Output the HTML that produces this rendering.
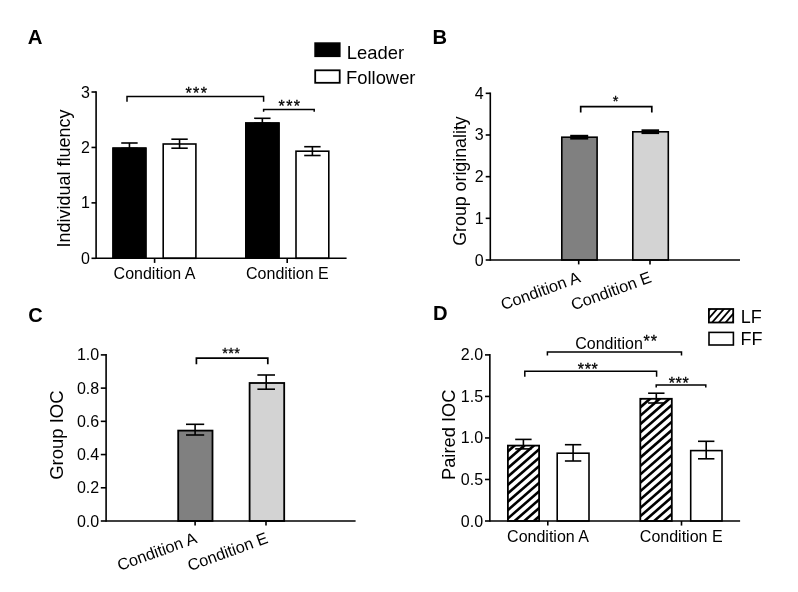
<!DOCTYPE html>
<html lang="en">
<head>
<meta charset="utf-8">
<title>Figure</title>
<style>
html,body{margin:0;padding:0;background:#fff;}
svg{display:block;font-family:"Liberation Sans",sans-serif;fill:#000;}
</style>
</head>
<body>
<svg width="798" height="592" viewBox="0 0 798 592">
<rect x="0" y="0" width="798" height="592" fill="#fff"/>
<text x="27.7" y="44.3" font-size="20.4" text-anchor="start" font-weight="bold">A</text>
<rect x="315.1" y="43.1" width="24.7" height="13.2" fill="#000" stroke="#000" stroke-width="1.6"/>
<rect x="315.2" y="70.3" width="24.5" height="12.5" fill="#fff" stroke="#000" stroke-width="1.8"/>
<text x="346.8" y="58.6" font-size="18.4" text-anchor="start">Leader</text>
<text x="346.0" y="84.3" font-size="18.4" text-anchor="start">Follower</text>
<rect x="112.3" y="147.4" width="34.3" height="110.9" fill="#000" stroke="#000" stroke-width="0"/>
<rect x="112.3" y="147.4" width="34.3" height="110.9" fill="#000"/>
<line x1="129.45" y1="143" x2="129.45" y2="148.4" stroke="#000" stroke-width="1.6"/>
<line x1="121.24999999999999" y1="143" x2="137.64999999999998" y2="143" stroke="#000" stroke-width="1.6"/>
<line x1="121.24999999999999" y1="148.4" x2="137.64999999999998" y2="148.4" stroke="#000" stroke-width="1.6"/>
<rect x="163.20000000000002" y="144" width="32.7" height="114.3" fill="#fff" stroke="#000" stroke-width="1.6"/>
<line x1="179.55" y1="139.2" x2="179.55" y2="148.2" stroke="#000" stroke-width="1.6"/>
<line x1="171.35000000000002" y1="139.2" x2="187.75" y2="139.2" stroke="#000" stroke-width="1.6"/>
<line x1="171.35000000000002" y1="148.2" x2="187.75" y2="148.2" stroke="#000" stroke-width="1.6"/>
<rect x="245" y="122.3" width="34.7" height="136.0" fill="#000" stroke="#000" stroke-width="0"/>
<rect x="245" y="122.3" width="34.7" height="136.0" fill="#000"/>
<line x1="262.35" y1="118.3" x2="262.35" y2="123.3" stroke="#000" stroke-width="1.6"/>
<line x1="254.15000000000003" y1="118.3" x2="270.55" y2="118.3" stroke="#000" stroke-width="1.6"/>
<line x1="254.15000000000003" y1="123.3" x2="270.55" y2="123.3" stroke="#000" stroke-width="1.6"/>
<rect x="296.0" y="151.2" width="32.8" height="107.1" fill="#fff" stroke="#000" stroke-width="1.6"/>
<line x1="312.4" y1="146.7" x2="312.4" y2="155.5" stroke="#000" stroke-width="1.6"/>
<line x1="304.2" y1="146.7" x2="320.59999999999997" y2="146.7" stroke="#000" stroke-width="1.6"/>
<line x1="304.2" y1="155.5" x2="320.59999999999997" y2="155.5" stroke="#000" stroke-width="1.6"/>
<line x1="96.1" y1="91.2" x2="96.1" y2="259.1" stroke="#000" stroke-width="1.6"/>
<line x1="96.1" y1="258.3" x2="346.6" y2="258.3" stroke="#000" stroke-width="1.45"/>
<line x1="91.5" y1="258.3" x2="96.1" y2="258.3" stroke="#000" stroke-width="1.6"/>
<text x="89.8" y="263.8" font-size="16" text-anchor="end">0</text>
<line x1="91.5" y1="202.87" x2="96.1" y2="202.87" stroke="#000" stroke-width="1.6"/>
<text x="89.8" y="208.37" font-size="16" text-anchor="end">1</text>
<line x1="91.5" y1="147.44" x2="96.1" y2="147.44" stroke="#000" stroke-width="1.6"/>
<text x="89.8" y="152.94" font-size="16" text-anchor="end">2</text>
<line x1="91.5" y1="92.01" x2="96.1" y2="92.01" stroke="#000" stroke-width="1.6"/>
<text x="89.8" y="97.51" font-size="16" text-anchor="end">3</text>
<line x1="154.6" y1="258.3" x2="154.6" y2="262.90000000000003" stroke="#000" stroke-width="1.6"/>
<line x1="287.2" y1="258.3" x2="287.2" y2="262.90000000000003" stroke="#000" stroke-width="1.6"/>
<text x="154.5" y="279" font-size="16" text-anchor="middle">Condition A</text>
<text x="287.4" y="279" font-size="16" text-anchor="middle">Condition E</text>
<text x="70.4" y="178.5" font-size="18" text-anchor="middle" transform="rotate(-90 70.4 178.5)">Individual fluency</text>
<polyline points="127,101.80000000000001 127,96.4 263.6,96.4 263.6,101.80000000000001" fill="none" stroke="#000" stroke-width="1.5"/>
<polyline points="263.6,111.8 263.6,109.5 314.2,109.5 314.2,111.8" fill="none" stroke="#000" stroke-width="1.5"/>
<text x="196.85" y="99.2" font-size="16" text-anchor="middle" letter-spacing="1.4" stroke="#000" stroke-width="0.3">***</text>
<text x="289.95" y="111.7" font-size="16" text-anchor="middle" letter-spacing="1.4" stroke="#000" stroke-width="0.3">***</text>
<text x="432.6" y="43.9" font-size="20.2" text-anchor="start" font-weight="bold">B</text>
<rect x="561.8" y="137.2" width="35.3" height="122.8" fill="#808080" stroke="#000" stroke-width="1.6"/>
<line x1="579.2" y1="135.9" x2="579.2" y2="138.5" stroke="#000" stroke-width="2.2"/>
<line x1="570.2" y1="135.9" x2="588.2" y2="135.9" stroke="#000" stroke-width="2.2"/>
<line x1="570.2" y1="138.5" x2="588.2" y2="138.5" stroke="#000" stroke-width="2.2"/>
<rect x="632.8" y="131.8" width="35.5" height="128.2" fill="#d3d3d3" stroke="#000" stroke-width="1.6"/>
<line x1="650.3" y1="130.4" x2="650.3" y2="133.0" stroke="#000" stroke-width="2.2"/>
<line x1="641.5" y1="130.4" x2="659.0999999999999" y2="130.4" stroke="#000" stroke-width="2.2"/>
<line x1="641.5" y1="133.0" x2="659.0999999999999" y2="133.0" stroke="#000" stroke-width="2.2"/>
<line x1="490.3" y1="92.5" x2="490.3" y2="260.8" stroke="#000" stroke-width="1.6"/>
<line x1="490.3" y1="260.0" x2="740" y2="260.0" stroke="#000" stroke-width="1.6"/>
<line x1="485.7" y1="260.0" x2="490.3" y2="260.0" stroke="#000" stroke-width="1.6"/>
<text x="483.7" y="265.5" font-size="16" text-anchor="end">0</text>
<line x1="485.7" y1="218.33" x2="490.3" y2="218.33" stroke="#000" stroke-width="1.6"/>
<text x="483.7" y="223.83" font-size="16" text-anchor="end">1</text>
<line x1="485.7" y1="176.66" x2="490.3" y2="176.66" stroke="#000" stroke-width="1.6"/>
<text x="483.7" y="182.16" font-size="16" text-anchor="end">2</text>
<line x1="485.7" y1="134.99" x2="490.3" y2="134.99" stroke="#000" stroke-width="1.6"/>
<text x="483.7" y="140.49" font-size="16" text-anchor="end">3</text>
<line x1="485.7" y1="93.32" x2="490.3" y2="93.32" stroke="#000" stroke-width="1.6"/>
<text x="483.7" y="98.82" font-size="16" text-anchor="end">4</text>
<line x1="578.7" y1="260.0" x2="578.7" y2="264.4" stroke="#000" stroke-width="1.6"/>
<line x1="650" y1="260.0" x2="650" y2="264.4" stroke="#000" stroke-width="1.6"/>
<text x="581.5" y="281.8" font-size="16.3" text-anchor="end" transform="rotate(-20 581.5 281.8)">Condition A</text>
<text x="652.5" y="281.8" font-size="16.3" text-anchor="end" transform="rotate(-20 652.5 281.8)">Condition E</text>
<text x="465.6" y="181" font-size="17.8" text-anchor="middle" transform="rotate(-90 465.6 181)">Group originality</text>
<polyline points="580.7,112.6 580.7,106.6 651.8,106.6 651.8,112.6" fill="none" stroke="#000" stroke-width="1.7"/>
<text x="615.6" y="105.63" font-size="14.5" text-anchor="middle" letter-spacing="0" stroke="#000" stroke-width="0.3">*</text>
<text x="28.2" y="322.3" font-size="20" text-anchor="start" font-weight="bold">C</text>
<rect x="178.2" y="430.6" width="34.3" height="90.4" fill="#808080" stroke="#000" stroke-width="1.8"/>
<line x1="195.1" y1="424.3" x2="195.1" y2="435" stroke="#000" stroke-width="1.6"/>
<line x1="186.0" y1="424.3" x2="204.2" y2="424.3" stroke="#000" stroke-width="1.6"/>
<line x1="186.0" y1="435" x2="204.2" y2="435" stroke="#000" stroke-width="1.6"/>
<rect x="249.6" y="383" width="34.6" height="138.0" fill="#d3d3d3" stroke="#000" stroke-width="1.8"/>
<line x1="266.2" y1="375" x2="266.2" y2="389.2" stroke="#000" stroke-width="1.6"/>
<line x1="257.4" y1="375" x2="275.0" y2="375" stroke="#000" stroke-width="1.6"/>
<line x1="257.4" y1="389.2" x2="275.0" y2="389.2" stroke="#000" stroke-width="1.6"/>
<line x1="106.1" y1="354.09999999999997" x2="106.1" y2="521.8" stroke="#000" stroke-width="1.6"/>
<line x1="106.1" y1="521.0" x2="355.6" y2="521.0" stroke="#000" stroke-width="1.6"/>
<line x1="100.8" y1="521.0" x2="106.1" y2="521.0" stroke="#000" stroke-width="1.6"/>
<text x="99.2" y="526.5" font-size="16" text-anchor="end">0.0</text>
<line x1="100.8" y1="487.78" x2="106.1" y2="487.78" stroke="#000" stroke-width="1.6"/>
<text x="99.2" y="493.28" font-size="16" text-anchor="end">0.2</text>
<line x1="100.8" y1="454.56" x2="106.1" y2="454.56" stroke="#000" stroke-width="1.6"/>
<text x="99.2" y="460.06" font-size="16" text-anchor="end">0.4</text>
<line x1="100.8" y1="421.34" x2="106.1" y2="421.34" stroke="#000" stroke-width="1.6"/>
<text x="99.2" y="426.84" font-size="16" text-anchor="end">0.6</text>
<line x1="100.8" y1="388.12" x2="106.1" y2="388.12" stroke="#000" stroke-width="1.6"/>
<text x="99.2" y="393.62" font-size="16" text-anchor="end">0.8</text>
<line x1="100.8" y1="354.9" x2="106.1" y2="354.9" stroke="#000" stroke-width="1.6"/>
<text x="99.2" y="360.4" font-size="16" text-anchor="end">1.0</text>
<line x1="195.1" y1="521.0" x2="195.1" y2="525.6" stroke="#000" stroke-width="1.6"/>
<line x1="266" y1="521.0" x2="266" y2="525.6" stroke="#000" stroke-width="1.6"/>
<text x="198" y="542.5" font-size="16.3" text-anchor="end" transform="rotate(-20 198 542.5)">Condition A</text>
<text x="269" y="542.5" font-size="16.3" text-anchor="end" transform="rotate(-20 269 542.5)">Condition E</text>
<text x="62.8" y="435.1" font-size="18.5" text-anchor="middle" transform="rotate(-90 62.8 435.1)">Group IOC</text>
<polyline points="196.4,364.3 196.4,358.1 267.8,358.1 267.8,364.3" fill="none" stroke="#000" stroke-width="1.7"/>
<text x="231.2" y="358.38" font-size="14.5" text-anchor="middle" letter-spacing="0.3" stroke="#000" stroke-width="0.3">***</text>
<text x="433" y="320.2" font-size="20.2" text-anchor="start" font-weight="bold">D</text>
<clipPath id="c1"><rect x="708.9" y="309.0" width="24.3" height="13.5"/></clipPath>
<rect x="708.9" y="309.0" width="24.3" height="13.5" fill="#fff"/>
<g clip-path="url(#c1)" stroke="#000" stroke-width="1.8">
<line x1="707.9" y1="296.13" x2="734.2" y2="265.89"/>
<line x1="707.9" y1="303.93" x2="734.2" y2="273.69"/>
<line x1="707.9" y1="311.73" x2="734.2" y2="281.49"/>
<line x1="707.9" y1="319.53" x2="734.2" y2="289.29"/>
<line x1="707.9" y1="327.33" x2="734.2" y2="297.09"/>
<line x1="707.9" y1="335.13" x2="734.2" y2="304.89"/>
<line x1="707.9" y1="342.93" x2="734.2" y2="312.69"/>
<line x1="707.9" y1="350.73" x2="734.2" y2="320.49"/>
<line x1="707.9" y1="358.53" x2="734.2" y2="328.29"/>
<line x1="707.9" y1="366.33" x2="734.2" y2="336.09"/>
</g>
<rect x="708.9" y="309.0" width="24.3" height="13.5" fill="none" stroke="#000" stroke-width="1.8"/>
<rect x="709" y="332.4" width="24.4" height="12.6" fill="#fff" stroke="#000" stroke-width="1.6"/>
<text x="740.8" y="323.3" font-size="18" text-anchor="start">LF</text>
<text x="740.6" y="345.3" font-size="18" text-anchor="start">FF</text>
<clipPath id="c2"><rect x="507.9" y="445.6" width="31.2" height="75.4"/></clipPath>
<rect x="507.9" y="445.6" width="31.2" height="75.4" fill="#fff"/>
<g clip-path="url(#c2)" stroke="#000" stroke-width="2.6">
<line x1="506.9" y1="435.51" x2="540.1" y2="406.63"/>
<line x1="506.9" y1="443.89" x2="540.1" y2="415.01"/>
<line x1="506.9" y1="452.27" x2="540.1" y2="423.39"/>
<line x1="506.9" y1="460.65" x2="540.1" y2="431.77"/>
<line x1="506.9" y1="469.03" x2="540.1" y2="440.15"/>
<line x1="506.9" y1="477.41" x2="540.1" y2="448.53"/>
<line x1="506.9" y1="485.79" x2="540.1" y2="456.91"/>
<line x1="506.9" y1="494.17" x2="540.1" y2="465.29"/>
<line x1="506.9" y1="502.55" x2="540.1" y2="473.67"/>
<line x1="506.9" y1="510.93" x2="540.1" y2="482.05"/>
<line x1="506.9" y1="519.31" x2="540.1" y2="490.43"/>
<line x1="506.9" y1="527.69" x2="540.1" y2="498.81"/>
<line x1="506.9" y1="536.07" x2="540.1" y2="507.19"/>
<line x1="506.9" y1="544.45" x2="540.1" y2="515.57"/>
<line x1="506.9" y1="552.83" x2="540.1" y2="523.95"/>
<line x1="506.9" y1="561.21" x2="540.1" y2="532.33"/>
</g>
<rect x="507.9" y="445.6" width="31.2" height="75.4" fill="none" stroke="#000" stroke-width="1.8"/>
<line x1="523.4" y1="439.4" x2="523.4" y2="448.9" stroke="#000" stroke-width="1.6"/>
<line x1="515.1999999999999" y1="439.4" x2="531.6" y2="439.4" stroke="#000" stroke-width="1.6"/>
<line x1="515.1999999999999" y1="448.9" x2="531.6" y2="448.9" stroke="#000" stroke-width="1.6"/>
<rect x="557.2" y="453.2" width="31.8" height="67.8" fill="#fff" stroke="#000" stroke-width="1.6"/>
<line x1="573.1" y1="444.7" x2="573.1" y2="461" stroke="#000" stroke-width="1.6"/>
<line x1="564.9" y1="444.7" x2="581.3000000000001" y2="444.7" stroke="#000" stroke-width="1.6"/>
<line x1="564.9" y1="461" x2="581.3000000000001" y2="461" stroke="#000" stroke-width="1.6"/>
<clipPath id="c3"><rect x="640.3" y="398.8" width="31.5" height="122.2"/></clipPath>
<rect x="640.3" y="398.8" width="31.5" height="122.2" fill="#fff"/>
<g clip-path="url(#c3)" stroke="#000" stroke-width="2.6">
<line x1="639.3" y1="383.03" x2="672.8" y2="353.89"/>
<line x1="639.3" y1="391.41" x2="672.8" y2="362.27"/>
<line x1="639.3" y1="399.79" x2="672.8" y2="370.65"/>
<line x1="639.3" y1="408.17" x2="672.8" y2="379.03"/>
<line x1="639.3" y1="416.55" x2="672.8" y2="387.41"/>
<line x1="639.3" y1="424.93" x2="672.8" y2="395.79"/>
<line x1="639.3" y1="433.31" x2="672.8" y2="404.17"/>
<line x1="639.3" y1="441.69" x2="672.8" y2="412.55"/>
<line x1="639.3" y1="450.07" x2="672.8" y2="420.93"/>
<line x1="639.3" y1="458.45" x2="672.8" y2="429.31"/>
<line x1="639.3" y1="466.83" x2="672.8" y2="437.69"/>
<line x1="639.3" y1="475.21" x2="672.8" y2="446.07"/>
<line x1="639.3" y1="483.59" x2="672.8" y2="454.45"/>
<line x1="639.3" y1="491.97" x2="672.8" y2="462.83"/>
<line x1="639.3" y1="500.35" x2="672.8" y2="471.21"/>
<line x1="639.3" y1="508.73" x2="672.8" y2="479.59"/>
<line x1="639.3" y1="517.11" x2="672.8" y2="487.97"/>
<line x1="639.3" y1="525.49" x2="672.8" y2="496.35"/>
<line x1="639.3" y1="533.87" x2="672.8" y2="504.73"/>
<line x1="639.3" y1="542.25" x2="672.8" y2="513.11"/>
<line x1="639.3" y1="550.63" x2="672.8" y2="521.49"/>
<line x1="639.3" y1="559.01" x2="672.8" y2="529.87"/>
</g>
<rect x="640.3" y="398.8" width="31.5" height="122.2" fill="none" stroke="#000" stroke-width="1.8"/>
<line x1="656.3" y1="393.2" x2="656.3" y2="403" stroke="#000" stroke-width="1.6"/>
<line x1="648.0999999999999" y1="393.2" x2="664.5" y2="393.2" stroke="#000" stroke-width="1.6"/>
<line x1="648.0999999999999" y1="403" x2="664.5" y2="403" stroke="#000" stroke-width="1.6"/>
<rect x="690.7" y="450.6" width="31.3" height="70.4" fill="#fff" stroke="#000" stroke-width="1.6"/>
<line x1="706.2" y1="441.3" x2="706.2" y2="458.8" stroke="#000" stroke-width="1.6"/>
<line x1="698.0" y1="441.3" x2="714.4000000000001" y2="441.3" stroke="#000" stroke-width="1.6"/>
<line x1="698.0" y1="458.8" x2="714.4000000000001" y2="458.8" stroke="#000" stroke-width="1.6"/>
<line x1="489.85" y1="354.09999999999997" x2="489.85" y2="521.8" stroke="#000" stroke-width="1.6"/>
<line x1="489.85" y1="521.0" x2="740.1" y2="521.0" stroke="#000" stroke-width="1.6"/>
<line x1="485" y1="521.0" x2="489.85" y2="521.0" stroke="#000" stroke-width="1.6"/>
<text x="483.1" y="526.5" font-size="16" text-anchor="end">0.0</text>
<line x1="485" y1="479.48" x2="489.85" y2="479.48" stroke="#000" stroke-width="1.6"/>
<text x="483.1" y="484.98" font-size="16" text-anchor="end">0.5</text>
<line x1="485" y1="437.95" x2="489.85" y2="437.95" stroke="#000" stroke-width="1.6"/>
<text x="483.1" y="443.45" font-size="16" text-anchor="end">1.0</text>
<line x1="485" y1="396.43" x2="489.85" y2="396.43" stroke="#000" stroke-width="1.6"/>
<text x="483.1" y="401.93" font-size="16" text-anchor="end">1.5</text>
<line x1="485" y1="354.9" x2="489.85" y2="354.9" stroke="#000" stroke-width="1.6"/>
<text x="483.1" y="360.4" font-size="16" text-anchor="end">2.0</text>
<line x1="547.8" y1="521.0" x2="547.8" y2="525.6" stroke="#000" stroke-width="1.6"/>
<line x1="681.5" y1="521.0" x2="681.5" y2="525.6" stroke="#000" stroke-width="1.6"/>
<text x="548" y="541.8" font-size="16" text-anchor="middle">Condition A</text>
<text x="681.2" y="541.8" font-size="16" text-anchor="middle">Condition E</text>
<text x="454.8" y="434.8" font-size="18.3" text-anchor="middle" transform="rotate(-90 454.8 434.8)">Paired IOC</text>
<polyline points="547.4,355.4 547.4,351.9 681.5,351.9 681.5,355.4" fill="none" stroke="#000" stroke-width="1.5"/>
<text x="575.2" y="349.2" font-size="16" text-anchor="start">Condition<tspan font-size="16" dx="0.8" dy="-2.2" letter-spacing="0.9" stroke="#000" stroke-width="0.3">**</tspan></text>
<polyline points="524.8,376.7 524.8,371.2 656.6,371.2 656.6,376.7" fill="none" stroke="#000" stroke-width="1.5"/>
<text x="588.1" y="375.0" font-size="16" text-anchor="middle" letter-spacing="0.6" stroke="#000" stroke-width="0.3">***</text>
<polyline points="656.2,387.5 656.2,385 705.8,385 705.8,387.5" fill="none" stroke="#000" stroke-width="1.5"/>
<text x="679.0" y="388.8" font-size="16" text-anchor="middle" letter-spacing="0.6" stroke="#000" stroke-width="0.3">***</text>
</svg>
</body>
</html>
